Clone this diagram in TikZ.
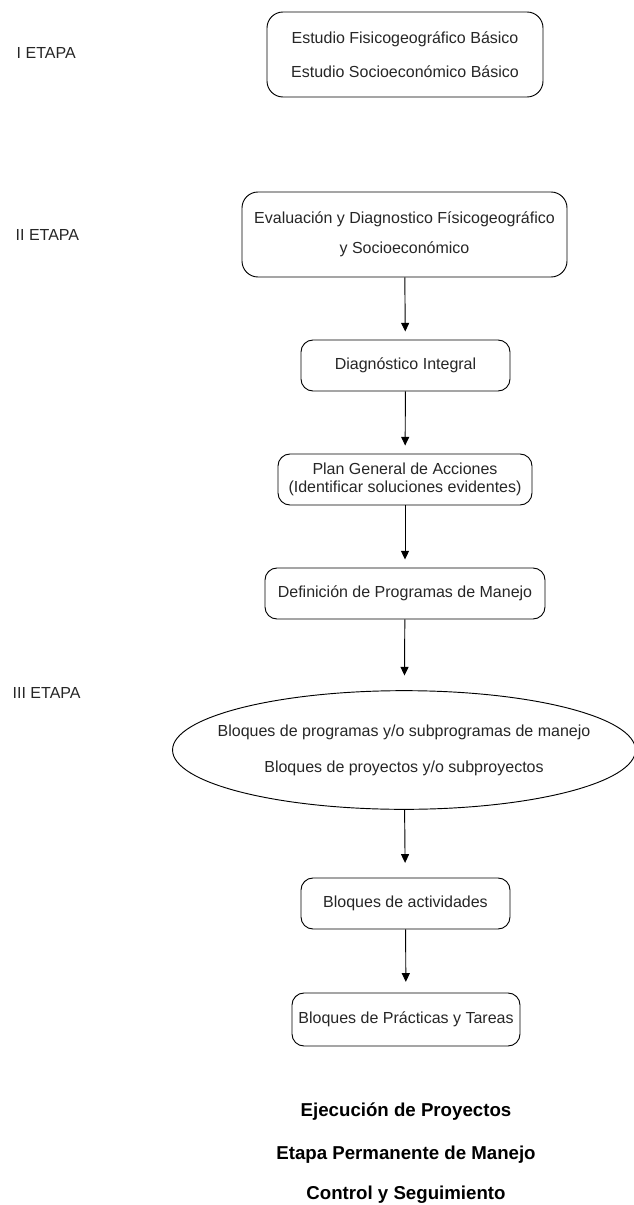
\documentclass[tikz,border=0pt]{standalone}
\usepackage{fontspec}
\setmainfont{Liberation Sans}
\usepackage{tikz}
\usetikzlibrary{arrows.meta,shapes.geometric}

\begin{document}
\begin{tikzpicture}[x=0.75pt, y=-0.75pt, >={Triangle[length=6.5pt,width=6pt]},
  every node/.style={font=\fontsize{12}{14.5}\selectfont, text=black!85},
  etapa/.style={anchor=west},
  caja/.style={draw, line width=0.7pt, rounded corners=9pt, align=center,
    inner sep=0pt, minimum height=38.25pt},
  cajagrande/.style={caja, rounded corners=12pt, minimum height=63.75pt},
  bloque/.style={draw, line width=0.7pt, ellipse, align=center, inner xsep=-17pt,
    inner ysep=0pt, minimum width=346pt, minimum height=89pt},
  final/.style={font=\bfseries\fontsize{14}{17}\selectfont, text=black},
  flecha/.style={->, line width=0.7pt, shorten >=6pt}]

  \useasboundingbox (0,0) rectangle (634,1205);

  % Define coordinates for nodes
  \node[etapa] (e1) at (12, 53) {I ETAPA};
  \node[etapa] (e2) at (11, 235) {II ETAPA};
  \node[etapa] (e3) at (8, 693) {III ETAPA};

  \node[cajagrande, minimum width=207pt] (estudio) at (405, 54.5)
    {Estudio Fisicogeográfico Básico\\[11pt] Estudio Socioeconómico Básico};
  \node[cajagrande, minimum width=243.75pt] (evaluacion) at (404.5, 234.5)
    {Evaluación y Diagnostico Físicogeográfico\\[8pt] y Socioeconómico};
  \node[caja, minimum width=156.75pt] (integral) at (405.5, 365.5) {Diagnóstico Integral};
  \node[caja, minimum width=190.5pt] (plan) at (405, 479.5)
    {Plan General de Acciones\\[-1pt] (Identificar soluciones evidentes)};
  \node[caja, minimum width=210pt] (definicion) at (405, 593.5) {Definición de Programas de Manejo};
  \node[bloque] (bloques) at (404, 750)
    {Bloques de programas y/o subprogramas de manejo\\[12.5pt] Bloques de proyectos y/o subproyectos};
  \node[caja, minimum width=156.75pt] (actividades) at (405.5, 903.5) {Bloques de actividades};
  \node[caja, minimum width=171pt, minimum height=39.75pt] (practicas) at (406, 1019.5)
    {Bloques de Prácticas y Tareas};

  \node[final] (ejecucion) at (406, 1112) {Ejecución de Proyectos};
  \node[final] (permanente) at (406, 1155) {Etapa Permanente de Manejo};
  \node[final] (control) at (406, 1195) {Control y Seguimiento};

  % Draw arrows between nodes
  \draw[flecha] (evaluacion) -- (integral);
  \draw[flecha] (integral) -- (plan);
  \draw[flecha] (plan) -- (definicion);
  \draw[flecha, shorten >=11pt] (definicion) -- (bloques);
  \draw[flecha, shorten >=11pt] (bloques) -- (actividades);
  \draw[flecha, shorten >=8pt] (actividades) -- (practicas);
\end{tikzpicture}
\end{document}
